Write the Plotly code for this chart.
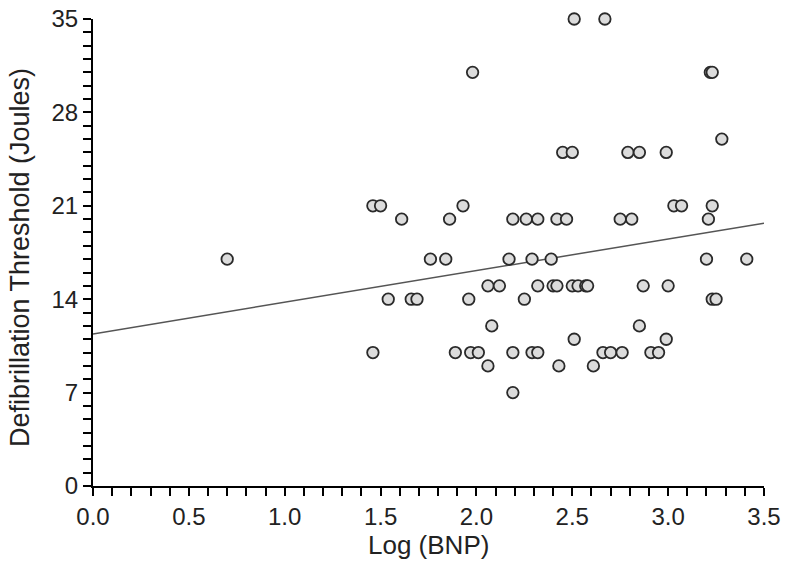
import plotly.graph_objects as go

## valeurs (Log BNP, seuil de défibrillation)
log_bnp = [2.51, 2.67,
           1.98, 3.22, 3.23,
           3.28,
           2.45, 2.50, 2.79, 2.85, 2.99,
           1.46, 1.50, 1.93, 3.03, 3.07, 3.23,
           1.61, 1.86, 2.19, 2.26, 2.32, 2.42, 2.47, 2.75, 2.81, 3.21,
           0.70, 1.76, 1.84, 2.17, 2.29, 2.39, 3.20, 3.41,
           2.06, 2.12, 2.32, 2.40, 2.42, 2.50, 2.53, 2.57, 2.58, 2.87, 3.00,
           1.54, 1.66, 1.69, 1.96, 2.25, 3.23, 3.25,
           2.08, 2.85,
           2.51, 2.99,
           1.46, 1.89, 1.97, 2.01, 2.19, 2.29, 2.32, 2.66, 2.70, 2.76, 2.91, 2.95,
           2.06, 2.43, 2.61,
           2.19]
dft = [35, 35,
       31, 31, 31,
       26,
       25, 25, 25, 25, 25,
       21, 21, 21, 21, 21, 21,
       20, 20, 20, 20, 20, 20, 20, 20, 20, 20,
       17, 17, 17, 17, 17, 17, 17, 17,
       15, 15, 15, 15, 15, 15, 15, 15, 15, 15, 15,
       14, 14, 14, 14, 14, 14, 14,
       12, 12,
       11, 11,
       10, 10, 10, 10, 10, 10, 10, 10, 10, 10, 10, 10,
       9, 9, 9,
       7]

## droite de régression (extrémités lues)
fit_x = [0.0, 3.5]
fit_y = [11.4, 19.7]

x_ticks = [0.0, 0.5, 1.0, 1.5, 2.0, 2.5, 3.0, 3.5]
y_ticks = [0, 7, 14, 21, 28, 35]

font_tick = dict(family='Liberation Sans, Arial', size=24, color='#222')
font_xtitle = dict(family='Liberation Sans, Arial', size=26, color='#222')
font_ytitle = dict(family='Liberation Sans, Arial', size=27, color='#222')

fig = go.Figure()

fig.add_trace(go.Scatter(x=fit_x, y=fit_y, mode='lines',
                         line=dict(color='#555', width=1.5),
                         showlegend=False, hoverinfo='skip'))

fig.add_trace(go.Scatter(x=log_bnp, y=dft, mode='markers', cliponaxis=False,
                         marker=dict(symbol='circle', size=11.5, color='#dcdcdc',
                                     line=dict(color='#2a2a2a', width=1.8)),
                         showlegend=False))

axis_common = dict(showgrid=False, zeroline=False, showline=True,
                   linecolor='black', linewidth=2, automargin=False,
                   ticks='outside', ticklen=8, tickwidth=2, tickcolor='black',
                   tickfont=font_tick, ticklabeloverflow='allow')

fig.update_xaxes(range=[0, 3.5], tickvals=x_ticks,
                 ticktext=[f'{v:.1f}' for v in x_ticks],
                 minor=dict(dtick=0.1, ticks='outside', ticklen=8,
                            tickwidth=2, tickcolor='black'),
                 **axis_common)
fig.update_yaxes(range=[0, 35], tickvals=y_ticks,
                 minor=dict(dtick=1, ticks='outside', ticklen=8,
                            tickwidth=2, tickcolor='black'),
                 **axis_common)

## titres des axes placés en annotations
fig.add_annotation(text='Log (BNP)', font=font_xtitle, showarrow=False,
                   xref='paper', yref='paper', x=0.5, y=0,
                   yanchor='middle', yshift=-59)
fig.add_annotation(text='Defibrillation Threshold (Joules)', font=font_ytitle,
                   showarrow=False, textangle=-90,
                   xref='paper', yref='paper', x=0, y=0.488,
                   xanchor='center', xshift=-73)

fig.update_layout(width=791, height=575,
                  margin=dict(l=93, r=27, t=19, b=89),
                  plot_bgcolor='white', paper_bgcolor='white',
                  font=font_tick)

## suppression de la marge par défaut du <body>, sans barre d'outils
fig.write_html("out.html", config={'displayModeBar': False},
               post_script="document.body.style.margin='0';")
